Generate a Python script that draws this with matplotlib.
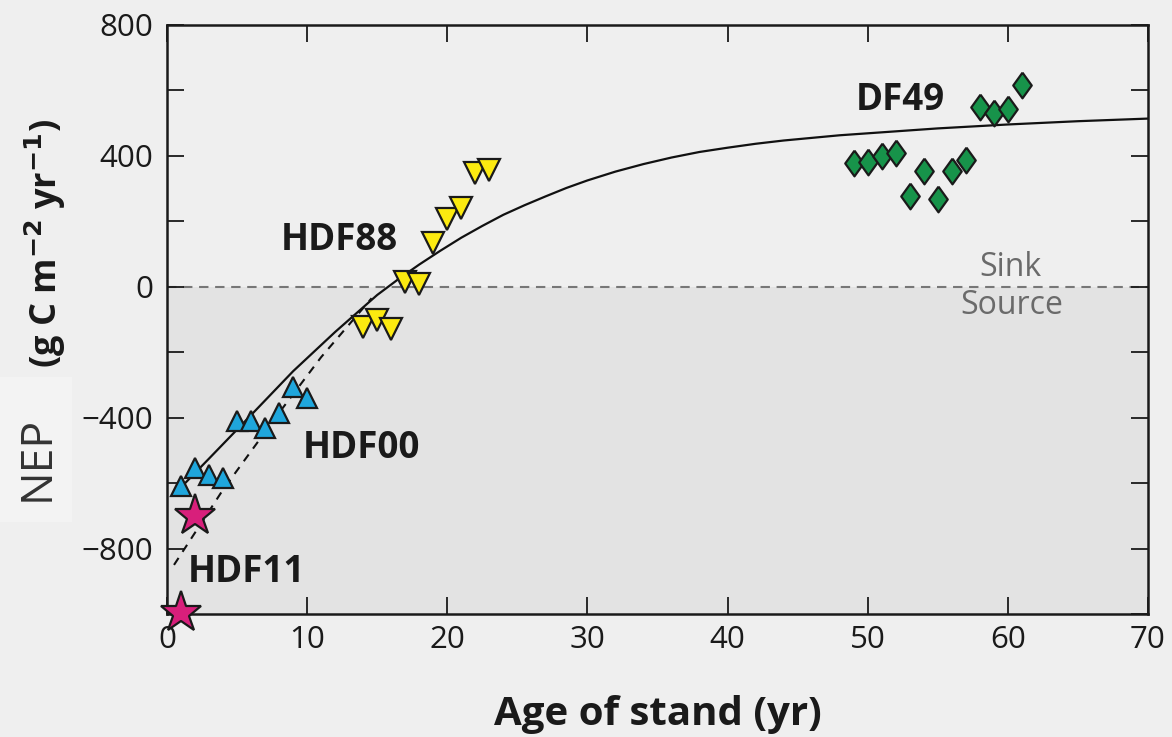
import matplotlib
matplotlib.use("Agg")
import matplotlib.pyplot as plt
from matplotlib.patches import Rectangle

plt.rcParams['font.family'] = ['Open Sans', 'DejaVu Sans']

# ---- data ----
hdf00_age = [1, 2, 3, 4, 5, 6, 7, 8, 9, 10]
hdf00_nep = [-610, -555, -575, -585, -410, -410, -432, -385, -305, -340]

hdf11_age = [1, 2]
hdf11_nep = [-998, -700]

hdf88_age = [14, 15, 16, 17, 18, 19, 20, 21, 22, 23]
hdf88_nep = [-122, -101, -128, 15, 9, 134, 207, 241, 348, 357]

df49_age = [49, 50, 51, 52, 53, 54, 55, 56, 57, 58, 59, 60, 61]
df49_nep = [378, 380, 400, 409, 278, 354, 269, 354, 386, 550, 531, 543, 616]

# fitted curves
fit_age = [0.5, 3, 6, 9, 12, 15, 16.5, 18, 19.5, 21, 22.5, 24, 25.5, 27, 28.5, 30, 32, 34,
           36, 38, 40, 42, 44, 46, 48, 50, 55, 60, 65, 70]
fit_nep = [-635, -525, -392, -258, -138, -25, 23, 68, 110, 150, 186, 220, 249, 276, 302,
           325, 352, 375, 395, 412, 425, 437, 447, 455, 463, 469, 484, 496, 506, 514]

fit2_age = [0.5, 4, 8, 11, 14.6]
fit2_nep = [-850, -620, -385, -215, -35]

x_ticks = [0, 10, 20, 30, 40, 50, 60, 70]
y_ticks = [-800, -400, 0, 400, 800]

bg = '#efefef'
fig = plt.figure(figsize=(11.72, 7.37), dpi=100, facecolor=bg)
ax = fig.add_axes([167/1172, 1-614/737, (1148-167)/1172, (614-25)/737])
ax.set_facecolor(bg)

ax.set_xlim(0, 70)
ax.set_ylim(-1000, 800)

ax.axhspan(-1000, 0, color='#e3e3e3', zorder=0, lw=0)
ax.plot([0, 70], [0, 0], color='#777777', lw=1.5, dashes=(4.5, 3.2), zorder=1)

ax.plot(fit_age, fit_nep, color='#111111', lw=1.6, zorder=2, solid_joinstyle='round')
ax.plot(fit2_age, fit2_nep, color='#111111', lw=1.5, dashes=(4, 3.5), zorder=2)

ec = '#1a1a1a'
ax.plot(hdf00_age, hdf00_nep, ls='none', marker='^', ms=15, mfc='#1fa6dc', mec=ec, mew=1.6, zorder=4, clip_on=False)
ax.plot(hdf88_age, hdf88_nep, ls='none', marker='v', ms=15.5, mfc='#fcea10', mec=ec, mew=1.6, zorder=4, clip_on=False)
diamond = [(0, 1), (0.72, 0), (0, -1), (-0.72, 0), (0, 1)]
ax.plot(df49_age, df49_nep, ls='none', marker=diamond, ms=18.5, mfc='#17934a', mec=ec, mew=1.6, zorder=4, clip_on=False)
ax.plot(hdf11_age, hdf11_nep, ls='none', marker='*', ms=31, mfc='#d81f7b', mec=ec, mew=1.6, zorder=5, clip_on=False)

for s in ax.spines.values():
    s.set_linewidth(1.8)
    s.set_color('#1a1a1a')

ax.set_xticks(x_ticks)
ax.set_xticklabels([str(v) for v in x_ticks])
ax.set_yticks(y_ticks)
ax.set_yticklabels([f"{v}".replace('-', '\u2212') for v in y_ticks])
ax.set_yticks(list(range(-1000, 801, 200)), minor=True)
ax.tick_params(which='both', direction='in', length=12, width=1.3, color='#1a1a1a',
               top=True, right=True, labelsize=22.5, labelcolor='#1a1a1a')
ax.tick_params(axis='y', which='major', pad=10)
ax.tick_params(axis='x', which='major', pad=8)

ax.set_xlabel('Age of stand (yr)', fontsize=29, fontweight='bold', color='#1a1a1a', labelpad=29)

# y label pieces
fig.text(45/1172, 1-243/737, '(g C m$^{\\mathbf{\u2212}\\mathbf{2}}$ yr$^{\\mathbf{\u2212}\\mathbf{1}}$)',
         rotation=90, ha='center', va='center', fontsize=26, fontweight='bold', color='#1a1a1a')
fig.patches.append(Rectangle((0, 1-522/737), 72/1172, 145/737, transform=fig.transFigure,
                             facecolor='#f3f3f3', edgecolor='none', zorder=0))
fig.text(37/1172, 1-458/737, 'NEP', rotation=90, ha='center', va='center', fontsize=32,
         color='#333333')

lab = dict(fontsize=26.5, fontweight='bold', color='#1a1a1a', ha='center', va='center', zorder=6)
ax.text(12.3, 143, 'HDF88', **lab)
ax.text(13.9, -492, 'HDF00', **lab)
ax.text(5.7, -873, 'HDF11', **lab)
ax.text(52.3, 571, 'DF49', **lab)

ax.text(60.2, 58, 'Sink', fontsize=23, color='#6a6a6a', ha='center', va='center')
ax.text(60.3, -58, 'Source', fontsize=23, color='#6a6a6a', ha='center', va='center')

fig.savefig('out.png', dpi=100, facecolor=bg)
